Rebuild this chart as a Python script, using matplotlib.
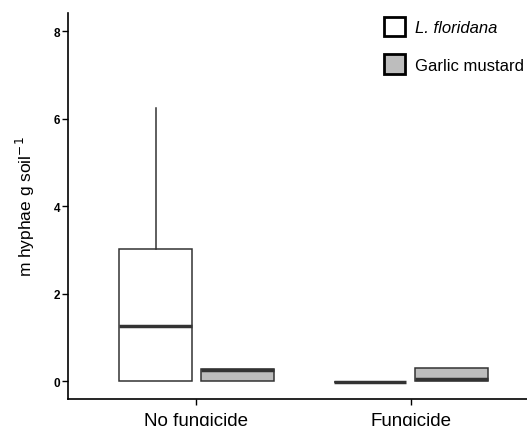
import matplotlib
matplotlib.use("Agg")
import matplotlib.pyplot as plt
from matplotlib.patches import Patch

plt.rcParams['font.family'] = ['Liberation Sans', 'DejaVu Sans']

# treatments on the x axis
treatments = ["No fungicide", "Fungicide"]
species = ["L. floridana", "Garlic mustard"]
fills = ["white", "#bdbdbd"]

# box statistics (whislo, q1, med, q3, whishi)
floridana_stats = [
    [0.0, 0.0, 1.27, 3.02, 6.25],
    [-0.01, -0.01, -0.01, -0.01, -0.01],
]
mustard_stats = [
    [0.0, 0.0, 0.26, 0.28, 0.28],
    [0.0, 0.0, 0.05, 0.29, 0.29],
]

fig = plt.figure(figsize=(5.27, 4.27), dpi=100)
ax = fig.add_axes([0.129, 0.063, 0.871, 0.904])

def to_stats(rows):
    out = []
    for lo, q1, med, q3, hi in rows:
        out.append(dict(whislo=lo, q1=q1, med=med, q3=q3, whishi=hi, fliers=[]))
    return out

offsets = [-0.19, 0.19]
for k, rows in enumerate([floridana_stats, mustard_stats]):
    pos = [i + 1 + offsets[k] for i in range(len(treatments))]
    ax.bxp(to_stats(rows), positions=pos, widths=0.34, patch_artist=True,
           showcaps=False,
           boxprops=dict(facecolor=fills[k], edgecolor="#333333", linewidth=1.1),
           medianprops=dict(color="#333333", linewidth=2.5, solid_capstyle="butt"),
           whiskerprops=dict(color="#333333", linewidth=1.1))

ax.set_xlim(0.4, 2.543)
ax.set_ylim(-0.41, 8.41)
ax.set_xticks([1, 2])
ax.set_xticklabels(treatments, fontsize=13.5)
ax.set_yticks([0, 2, 4, 6, 8])
ax.set_yticklabels(["0", "2", "4", "6", "8"], fontsize=8.5, fontweight="bold")
ax.tick_params(axis="both", length=4, width=1, color="black", pad=1.5)
ax.tick_params(axis="x", pad=5)
ax.spines["top"].set_visible(False)
ax.spines["right"].set_visible(False)
ax.spines["left"].set_linewidth(1.2)
ax.spines["bottom"].set_linewidth(1.2)
ax.set_ylabel("m hyphae g soil$^{-1}$", fontsize=12.5, labelpad=12)

handles = [Patch(facecolor=fills[i], edgecolor="black", linewidth=2) for i in range(2)]
leg = fig.legend(handles, species, loc="upper left",
                 bbox_to_anchor=(377 / 527, 1 - 11 / 427), borderaxespad=0,
                 frameon=False, fontsize=12, handlelength=1.26, handleheight=1.45,
                 labelspacing=1.08, handletextpad=0.6)
leg.get_texts()[0].set_fontstyle("italic")

fig.savefig("out.png", dpi=100)
